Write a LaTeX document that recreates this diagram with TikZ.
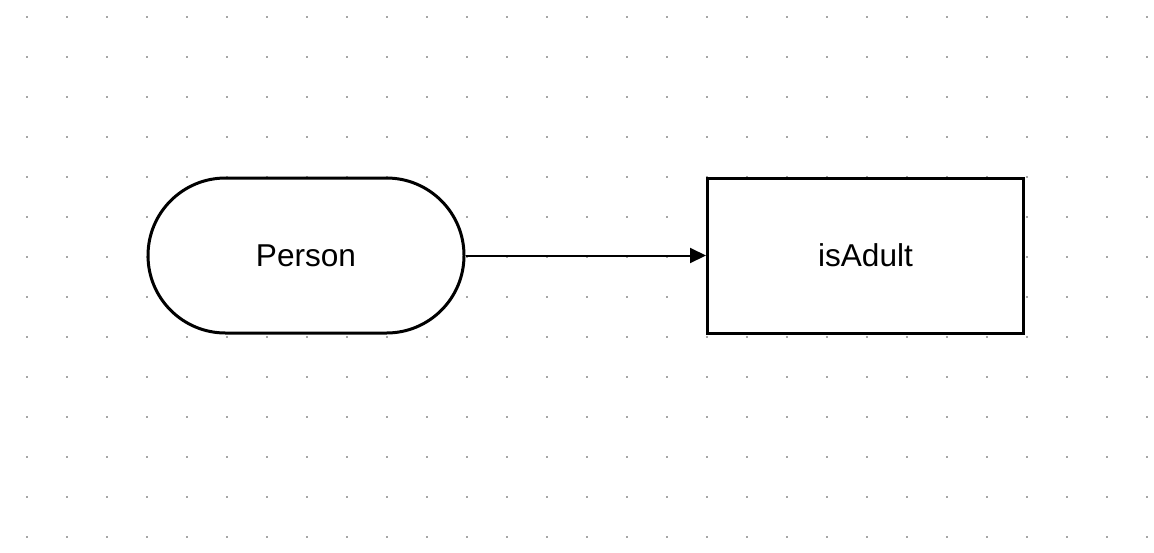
\documentclass[tikz,border=0pt]{standalone}
\usepackage{fontspec}
\setmainfont{Liberation Sans}
\usetikzlibrary{arrows.meta}

\begin{document}
\begin{tikzpicture}[x=0.5pt, y=-0.5pt,
% common options for the boxes:
box/.style = {draw, fill=white, line width=1.5pt, align=center, minimum width=158pt,
            minimum height=77.5pt, inner sep=0, font=\fontsize{15.8}{19}\selectfont},
% rounded start box:
term/.style = {box, rounded corners=38.75pt},
% grid dots:
griddot/.style = {fill=black!35}]
\useasboundingbox (0,0) rectangle (1154,552);
\fill[white] (0,0) rectangle (1154,552);
\foreach \i in {0,...,28}
  \foreach \j in {0,...,13}
    \fill[griddot] (25.5+40*\i,15.5+40*\j) rectangle ++(2,2);
\node[term] (person) at (306,255.5) {Person};
\node[box] (adult) at (865.5,255.5) {isAdult};
\draw[line width=1pt, -{Triangle[length=8pt, width=7.5pt]}] (person.east) to (adult.west);
\end{tikzpicture}
\end{document}
